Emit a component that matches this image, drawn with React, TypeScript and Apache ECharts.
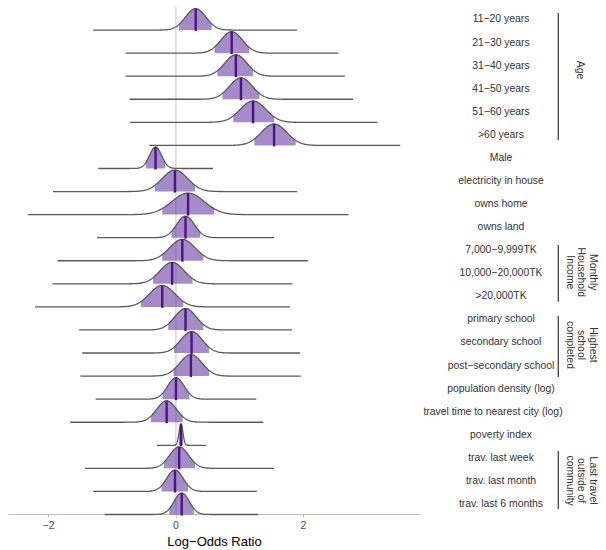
import React, { useEffect, useRef } from 'react';
import * as echarts from 'echarts';

const rowLabels = [
  '11\u221220 years', '21\u221230 years', '31\u221240 years', '41\u221250 years', '51\u221260 years', '>60 years',
  'Male', 'electricity in house', 'owns home', 'owns land',
  '7,000\u22129,999TK', '10,000\u221220,000TK', '>20,000TK',
  'primary school', 'secondary school', 'post\u2212secondary school',
  'population density (log)', 'travel time to nearest city (log)', 'poverty index',
  'trav. last week', 'trav. last month', 'trav. last 6 months',
];
const medians = [0.31, 0.875, 0.94, 1.02, 1.21, 1.54, -0.32, -0.016, 0.19, 0.15, 0.10, -0.06, -0.215, 0.15, 0.245, 0.235, 0.0, -0.146, 0.079, 0.05, -0.016, 0.09];
const sds = [0.16, 0.17, 0.175, 0.18, 0.2, 0.2, 0.095, 0.2, 0.255, 0.14, 0.2, 0.19, 0.2, 0.17, 0.17, 0.175, 0.13, 0.155, 0.03, 0.15, 0.13, 0.12];
const lows = [0.047, 0.61, 0.65, 0.73, 0.90, 1.23, -0.47, -0.33, -0.215, -0.07, -0.215, -0.36, -0.55, -0.12, -0.03, -0.04, -0.21, -0.39, 0.05, -0.19, -0.225, -0.105];
const highs = [0.56, 1.15, 1.21, 1.31, 1.54, 1.88, -0.17, 0.30, 0.60, 0.38, 0.43, 0.26, 0.115, 0.43, 0.52, 0.52, 0.21, 0.105, 0.11, 0.30, 0.19, 0.28];
const mins = [-1.30, -0.79, -0.79, -0.73, -0.72, -0.42, -1.22, -1.93, -2.32, -1.24, -1.86, -1.94, -2.21, -1.52, -1.47, -1.50, -1.26, -1.66, -0.30, -1.43, -1.30, -1.12];
const maxs = [1.90, 2.55, 2.65, 2.78, 3.16, 3.52, 0.58, 1.90, 2.71, 1.54, 2.07, 1.83, 1.79, 1.82, 1.95, 1.96, 1.26, 1.37, 0.47, 1.54, 1.27, 1.29];

const xTicks = [-2, 0, 2];

const groupNames = ['Age', 'Monthly\nHousehold\nIncome', 'Highest\nschool\ncompleted', 'Last travel\noutside of\ncommunity'];
const groupTop = [21.74, 11.68, 8.60, 2.75];
const groupBottom = [16.23, 9.22, 5.96, 0.24];
const groupMid = [19.27, 10.5, 7.35, 1.47];
const groupTextX = [6.35, 6.37, 6.37, 6.37];

const N_ROWS = rowLabels.length;
const PEAK = 0.93;
const LABEL_OFFSET = 0.48;
const BRACKET_X = 6.0;
const FONT = '"Liberation Sans", Arial, Helvetica, sans-serif';

const fmtNum = (v: number) => (v < 0 ? '\u2212' + Math.abs(v) : String(v));

export default function App() {
  const ref = useRef<HTMLDivElement>(null);
  useEffect(() => {
    if (!ref.current) return;
    const chart = echarts.init(ref.current, undefined, { renderer: 'svg' });

    const renderRidge = (params: any, api: any) => {
      const i = params.dataIndex;
      const base = N_ROWS - 1 - i;
      const m = medians[i];
      const s = sds[i];
      const dens = (x: number) => base + PEAK * Math.exp(-0.5 * ((x - m) / s) ** 2);
      const N = 400;
      const curve: number[][] = [];
      for (let k = 0; k <= N; k++) {
        const x = mins[i] + ((maxs[i] - mins[i]) * k) / N;
        curve.push(api.coord([x, dens(x)]));
      }
      const shade: number[][] = [];
      const M = 100;
      for (let k = 0; k <= M; k++) {
        const x = lows[i] + ((highs[i] - lows[i]) * k) / M;
        shade.push(api.coord([x, dens(x)]));
      }
      shade.push(api.coord([highs[i], base]));
      shade.push(api.coord([lows[i], base]));
      const p0 = api.coord([m, base]);
      const p1 = api.coord([m, dens(m)]);
      return {
        type: 'group',
        children: [
          { type: 'polygon', shape: { points: shade }, style: { fill: 'rgba(100,55,160,0.58)' } },
          { type: 'polyline', shape: { points: curve }, style: { stroke: '#5a5a5a', lineWidth: 1.3, fill: null } },
          {
            type: 'line',
            shape: { x1: p0[0], y1: p0[1] + 1, x2: p1[0], y2: p1[1] },
            style: { stroke: '#4a1486', lineWidth: 2.4 },
          },
        ],
      };
    };

    const renderZero = (params: any, api: any) => {
      const a = api.coord([0, 0]);
      const b = api.coord([0, N_ROWS]);
      return {
        type: 'line',
        shape: { x1: a[0], y1: a[1], x2: b[0], y2: b[1] },
        style: { stroke: '#c4c4c4', lineWidth: 1 },
      };
    };

    const renderGroup = (params: any, api: any) => {
      const g = params.dataIndex;
      const t = api.coord([BRACKET_X, groupTop[g]]);
      const b = api.coord([BRACKET_X, groupBottom[g]]);
      const c = api.coord([groupTextX[g], groupMid[g]]);
      return {
        type: 'group',
        children: [
          { type: 'line', shape: { x1: t[0], y1: t[1], x2: b[0], y2: b[1] }, style: { stroke: '#333333', lineWidth: 1.2 } },
          {
            type: 'text',
            x: c[0],
            y: c[1],
            rotation: -Math.PI / 2,
            style: {
              text: groupNames[g],
              fontSize: 10.4,
              fontFamily: FONT,
              fill: '#333333',
              align: 'center',
              verticalAlign: 'middle',
              lineHeight: 11.8,
            },
          },
        ],
      };
    };

    chart.setOption({
      animation: false,
      grid: { left: 9, right: 186, top: 7, bottom: 35.5, containLabel: false, outerBoundsMode: 'none' },
      xAxis: {
        type: 'value',
        min: -2.62,
        max: 3.83,
        name: 'Log\u2212Odds Ratio',
        nameLocation: 'middle',
        nameGap: 19,
        nameTextStyle: { fontSize: 13, color: '#000', fontFamily: FONT },
        axisLine: { show: true, lineStyle: { color: '#bdbdbd', width: 1 } },
        axisTick: { show: true, customValues: xTicks, length: 3, lineStyle: { color: '#bdbdbd' } },
        axisLabel: {
          customValues: xTicks,
          formatter: (v: number) => fmtNum(v),
          fontSize: 10.5,
          color: '#4d4d4d',
          fontFamily: FONT,
          margin: 5,
        },
        splitLine: { show: false },
      },
      yAxis: {
        type: 'value',
        position: 'right',
        min: 0,
        max: N_ROWS,
        axisLine: { show: false },
        axisTick: { show: false },
        splitLine: { show: false },
        axisLabel: {
          customValues: rowLabels.map((_, i) => N_ROWS - 1 - i + LABEL_OFFSET),
          formatter: (v: number) => {
            const i = N_ROWS - 1 - Math.round(v - LABEL_OFFSET);
            const txt = rowLabels[i] ?? '';
            return i === 17 ? '{s|' + txt + '}' : txt;
          },
          rich: {
            s: { fontSize: 10.4, fontFamily: FONT, color: '#333333', padding: [0, 16, 0, 0] },
          },
          align: 'center',
          margin: 81,
          fontSize: 10.4,
          color: '#333333',
          fontFamily: FONT,
        },
      },
      series: [
        { type: 'custom', renderItem: renderZero, data: [[0]], clip: false, z: 1 },
        { type: 'custom', renderItem: renderRidge, data: rowLabels.map((_, i) => [i]), clip: false, z: 2 },
        { type: 'custom', renderItem: renderGroup, data: groupNames.map((_, i) => [i]), clip: false, z: 3 },
      ],
    });
    return () => chart.dispose();
  }, []);
  return <div ref={ref} style={{ position: 'fixed', left: 0, top: 0, width: 606, height: 550, background: '#fff' }} />;
}
